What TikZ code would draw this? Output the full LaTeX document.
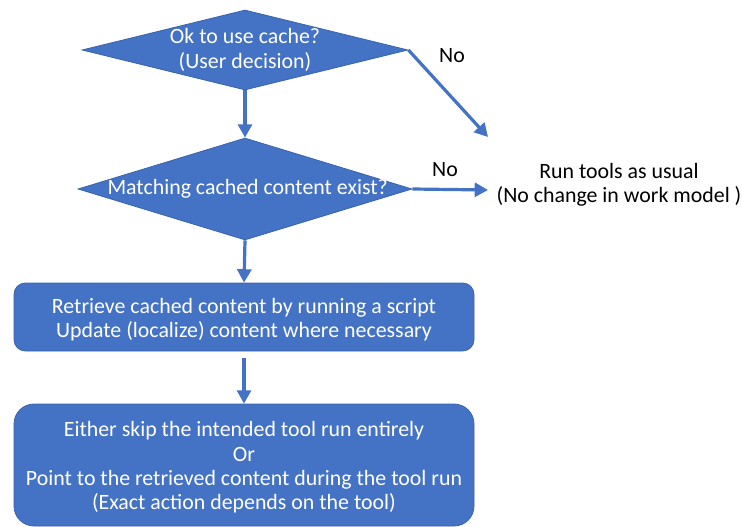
\documentclass[tikz,border=0pt]{standalone}
\usepackage{fontspec}
\setmainfont{Carlito}
\usetikzlibrary{shapes.geometric,arrows.meta}
\definecolor{offblue}{HTML}{4472C4}
\definecolor{offedge}{HTML}{3A63AE}

\begin{document}
\begin{tikzpicture}[x=0.75pt, y=-0.75pt,
  every node/.style={font=\fontsize{16.4}{18.3}\selectfont},
  dia/.style={diamond, fill=offblue, draw=offedge, line width=0.6pt,
    inner sep=0pt, text=white, align=center},
  box/.style={rectangle, fill=offblue, draw=offedge, line width=0.6pt,
    minimum width=345pt, text=white, align=center},
  flow/.style={offblue, line width=2.4pt, -{Triangle[length=10pt,width=10.5pt]}}]
  %----- page size -----
  \useasboundingbox (0,0) rectangle (742,527);

  %----- decisions -----
  \node[dia, minimum width=244.5pt, minimum height=60pt] (usecache) at (245,50)
    {\makebox[0pt]{Ok to use cache?}\\\makebox[0pt]{(User decision)}};
  \node[dia, minimum width=250.5pt, minimum height=76.5pt] (match) at (245,189)
    {\makebox[0pt]{\hspace*{4pt}\raisebox{-2pt}{Matching cached content exist?}}};

  %----- actions -----
  \node[box, minimum height=51pt, rounded corners=8.5pt] (retrieve) at (244,317)
    {\rule{0pt}{15pt}Retrieve cached content by running a script\\Update (localize) content where necessary};
  \node[box, minimum height=91.5pt, rounded corners=15pt] (skip) at (244,465)
    {\rule{0pt}{15pt}Either skip the intended tool run entirely\\Or\\Point to the retrieved content during the tool run\\(Exact action depends on the tool)};

  %----- fallback -----
  \node[align=center] (usual) at (619,185)
    {Run tools as usual\\(No change in work model )};
  \coordinate (endA) at (488,137);
  \coordinate (endB) at (488,190);

  %----- arrows -----
  \draw[flow] (usecache.south) -- (match.north);
  \draw[flow] (match.south) -- (retrieve.north);
  \draw[flow, shorten <=5pt] (retrieve.south) -- (skip.north);
  \draw[flow] (usecache.east) -- (endA);
  \draw[flow] (match.east) -- (endB);

  %----- labels -----
  \node (noA) at (452,56) {No};
  \node (noB) at (445,170) {No};
\end{tikzpicture}
\end{document}
